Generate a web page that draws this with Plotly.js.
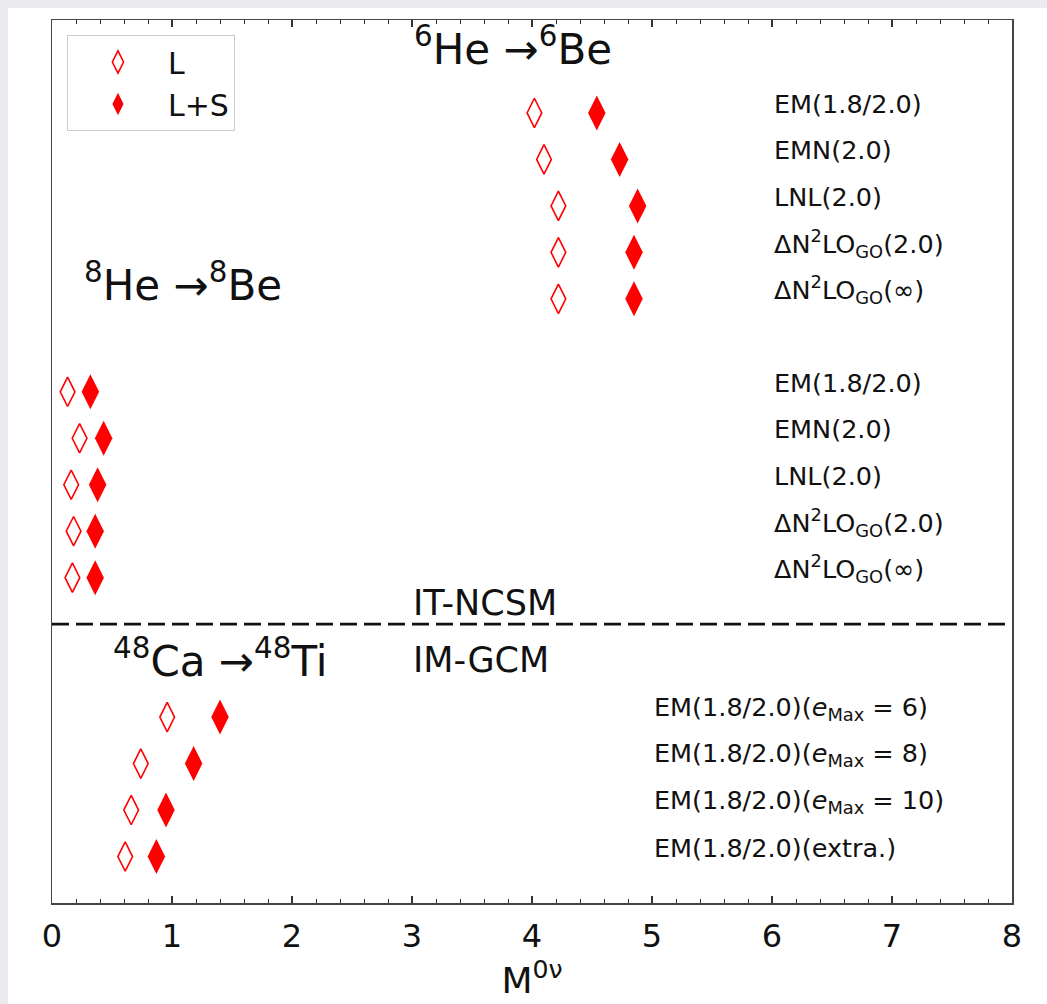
<!DOCTYPE html>
<html>
<head>
<meta charset="utf-8">
<script src="https://cdn.plot.ly/plotly-3.0.1.min.js"></script>
<style>
  html, body { margin: 0; padding: 0; background: #ebebef; width: 1047px; height: 1004px; overflow: hidden; }
  #plot { position: absolute; left: 8px; top: 8px; width: 1039px; height: 996px; background: #fff; }
</style>
</head>
<body>
<div id="plot"></div>
<script>
// ---- data ----
const heLabels = ['EM(1.8/2.0)', 'EMN(2.0)', 'LNL(2.0)',
  'ΔN<sup>2</sup>LO<sub>GO</sub>(2.0)', 'ΔN<sup>2</sup>LO<sub>GO</sub>(∞)'];
const he6_L  = [4.02, 4.10, 4.22, 4.22, 4.22];
const he6_LS = [4.54, 4.73, 4.88, 4.85, 4.85];
const he8_L  = [0.13, 0.23, 0.16, 0.18, 0.17];
const he8_LS = [0.32, 0.43, 0.38, 0.36, 0.36];
const caLabels = ['EM(1.8/2.0)(<i>e</i><sub>Max</sub> = 6)', 'EM(1.8/2.0)(<i>e</i><sub>Max</sub> = 8)',
  'EM(1.8/2.0)(<i>e</i><sub>Max</sub> = 10)', 'EM(1.8/2.0)(extra.)'];
const ca48_L  = [0.96, 0.74, 0.66, 0.61];
const ca48_LS = [1.40, 1.18, 0.95, 0.87];
const seriesNames = ['L', 'L+S'];
const xTicks = [0, 1, 2, 3, 4, 5, 6, 7, 8];

// row slots (top to bottom)
const he6Rows = [17, 16, 15, 14, 13];
const he8Rows = [11, 10, 9, 8, 7];
const caRows  = [4, 3, 2, 1];
const separatorY = 6;

const RED = '#ff0000';
const FONT = 'DejaVu Sans, sans-serif';

const yAll = he6Rows.concat(he8Rows, caRows);
const traces = [
  {
    type: 'scatter', mode: 'markers', name: seriesNames[0],
    x: he6_L.concat(he8_L, ca48_L), y: yAll,
    marker: { symbol: 'diamond-tall-open', size: 21, color: RED, line: { color: RED, width: 1.6 } }
  },
  {
    type: 'scatter', mode: 'markers', name: seriesNames[1],
    x: he6_LS.concat(he8_LS, ca48_LS), y: yAll,
    marker: { symbol: 'diamond-tall', size: 25, color: RED, line: { width: 0 } }
  }
];

const annotations = [];
function lab(text, x, y, size, shift) {
  annotations.push({ text: text, x: x, y: y, xref: 'x', yref: 'y', xanchor: 'left', yanchor: 'middle',
    yshift: shift || 0, showarrow: false, font: { family: FONT, size: size, color: '#111' } });
}
heLabels.forEach((t, i) => lab(t, 6.0, he6Rows[i], 25.5, 9));
heLabels.forEach((t, i) => lab(t, 6.0, he8Rows[i], 25.5, 9));
caLabels.forEach((t, i) => lab(t, 5.0, caRows[i], 25.5, 9));
lab('<sup>6</sup>He →<sup>6</sup>Be', 3.0, 18.42, 42, 0);
lab('<sup>8</sup>He →<sup>8</sup>Be', 0.25, 13.35, 42, 0);
lab('<sup>48</sup>Ca →<sup>48</sup>Ti', 0.49, 5.27, 42, 0);
lab('IT-NCSM', 2.99, 6.46, 35, 0);
lab('IM-GCM', 2.99, 5.23, 35, 0);

const layout = {
  width: 1039, height: 996,
  margin: { l: 44, r: 35, t: 12, b: 101 },
  paper_bgcolor: '#ffffff', plot_bgcolor: '#ffffff',
  font: { family: FONT, color: '#111' },
  showlegend: true,
  legend: {
    x: 0.0156, y: 0.983, xanchor: 'left', yanchor: 'top',
    bgcolor: '#ffffff', bordercolor: '#cccccc', borderwidth: 1,
    font: { family: FONT, size: 30, color: '#111' },
    itemwidth: 90, tracegroupgap: 0
  },
  xaxis: {
    range: [0, 8], tickvals: xTicks, ticktext: xTicks.map(String),
    ticks: 'inside', ticklen: 7, tickwidth: 1.2, tickcolor: '#333',
    showline: true, linecolor: '#444', linewidth: 1.5, mirror: 'ticks',
    minor: { dtick: 0.2, ticks: 'inside', ticklen: 4, tickwidth: 1, tickcolor: '#333' },
    showgrid: false, zeroline: false,
    tickfont: { family: FONT, size: 32, color: '#111' },
    ticklabelstandoff: 4,
    title: { text: 'M<sup>0ν</sup>', font: { family: FONT, size: 36, color: '#111' }, standoff: 2 }
  },
  yaxis: {
    range: [0, 19], showticklabels: false, ticks: '', showgrid: false, zeroline: false,
    showline: true, linecolor: '#444', linewidth: 1.5, mirror: true
  },
  shapes: [{
    type: 'line', xref: 'x', yref: 'y', x0: 0, x1: 8, y0: separatorY, y1: separatorY,
    line: { color: '#111', width: 2.8, dash: '17px,7px' }
  }],
  annotations: annotations
};

Plotly.newPlot('plot', traces, layout, { displayModeBar: false, staticPlot: true });
</script>
</body>
</html>
